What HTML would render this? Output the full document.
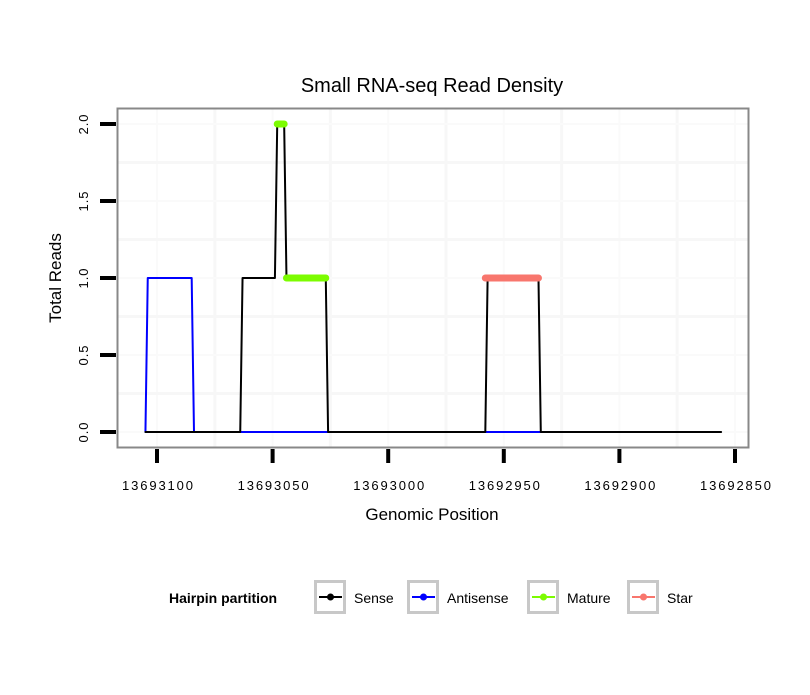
<!DOCTYPE html>
<html><head><meta charset="utf-8"><style>
body{margin:0;background:#fff;font-family:"Liberation Sans",sans-serif}
svg text{font-family:"Liberation Sans",sans-serif}
</style></head><body>
<svg width="810" height="690">
<rect width="810" height="690" fill="#fff"/>
<text x="432" y="92" text-anchor="middle" font-size="20">Small RNA-seq Read Density</text>
<g id="grid"></g>
<g id="marks"></g>
<rect x="117.5" y="108.5" width="631" height="339" fill="none" stroke="#888" stroke-width="2"/>
<g id="axes"></g>
<text x="432" y="520" text-anchor="middle" font-size="17">Genomic Position</text>
<text transform="translate(61,278) rotate(-90)" text-anchor="middle" font-size="17">Total Reads</text>
<g id="legend">
<text x="169" y="603" font-size="14" font-weight="bold">Hairpin partition</text>
</g>
</svg>
<script>
const xTicks=[13693100,13693050,13693000,13692950,13692900,13692850];
const yTicks=[0,0.5,1,1.5,2];
const sensePos=[13693105,13693064,13693063,13693049,13693048,13693045,13693044,13693027,13693026,13692958,13692957,13692935,13692934,13692856];
const senseVal=[0,0,1,1,2,2,1,1,0,0,1,1,0,0];
const antiPos=[13693105,13693104,13693085,13693084,13692934];
const antiVal=[0,1,1,0,0];
const maturePos1=[13693048,13693045];
const matureVal1=[2,2];
const maturePos2=[13693044,13693027];
const matureVal2=[1,1];
const starPos=[13692958,13692935];
const starVal=[1,1];
const legendLabels=["Sense","Antisense","Mature","Star"];
const legendColors=["#000","#0000ff","#7cfc00","#f8766d"];

const NS="http://www.w3.org/2000/svg";
function X(p){return 157+(13693100-p)*115.6/50;}
function Y(v){return 432-v*154;}
function mk(t,a,parent){const e=document.createElementNS(NS,t);for(const k in a)e.setAttribute(k,a[k]);parent.appendChild(e);return e;}
const grid=document.getElementById('grid'),marks=document.getElementById('marks'),axes=document.getElementById('axes'),legend=document.getElementById('legend');
mk('rect',{x:118,y:109,width:630,height:338,fill:'#fff'},grid);
for(let i=0;i<xTicks.length;i++){
 const x=X(xTicks[i]);
 const g=mk('line',{x1:x,x2:x,y1:109,y2:447,stroke:'#fafafa','stroke-width':2},grid);
 
 
 if(i<xTicks.length-1){const xm=X((xTicks[i]+xTicks[i+1])/2);
  const m=mk('line',{x1:xm,x2:xm,y1:109,y2:447,stroke:'#f7f7f7','stroke-width':3},grid);
  
  }
 const t=mk('line',{x1:x,x2:x,y1:449,y2:463,stroke:'#000','stroke-width':4},axes);
 
 
 const l=mk('text',{x:x-35,y:490,'font-size':13,textLength:71,lengthAdjust:'spacing'},axes);l.textContent=xTicks[i];
 
 
}
for(let i=0;i<yTicks.length;i++){
 const y=Y(yTicks[i]);
 const g=mk('line',{x1:118,x2:748,y1:y,y2:y,stroke:'#fafafa','stroke-width':2},grid);
 
 
 if(i<yTicks.length-1){const ym=Y((yTicks[i]+yTicks[i+1])/2);
  const m=mk('line',{x1:118,x2:748,y1:ym,y2:ym,stroke:'#f7f7f7','stroke-width':3},grid);
  
  }
 const t=mk('line',{x1:100,x2:116,y1:y,y2:y,stroke:'#000','stroke-width':4},axes);
 
 
 const l=mk('text',{transform:`translate(88,${y}) rotate(-90)`,'text-anchor':'middle','font-size':13,'letter-spacing':1},axes);l.textContent=yTicks[i].toFixed(1);
 
 
}
function line(pos,val,color,w,name){
 const pts=pos.map((p,i)=>X(p)+','+Y(val[i])).join(' ');
 const e=mk('polyline',{points:pts,fill:'none',stroke:color,'stroke-width':w,'stroke-linecap':'round','stroke-linejoin':'round'},marks);
 
 
}
line(antiPos,antiVal,'#0000ff',2,'antisense-line');
line(sensePos,senseVal,'#000',2,'sense-line');
line(maturePos1,matureVal1,'#7cfc00',7,'mature-segment-1');
line(maturePos2,matureVal2,'#7cfc00',7,'mature-segment-2');
line(starPos,starVal,'#f8766d',7,'star-segment');
const lx=[314,407,527,627];
for(let i=0;i<legendLabels.length;i++){
 const x=lx[i];
 const g=mk('g',{},legend);
 
 
 mk('rect',{x:x+1.5,y:581.5,width:29,height:31,fill:'#fff',stroke:'#c8c8c8','stroke-width':3},g);
 mk('line',{x1:x+5,x2:x+28,y1:597,y2:597,stroke:legendColors[i],'stroke-width':2},g);
 mk('circle',{cx:x+16.5,cy:597,r:3.5,fill:legendColors[i]},g);
 const t=mk('text',{x:x+40,y:603,'font-size':14},g);t.textContent=legendLabels[i];
}
</script>
</body></html>
